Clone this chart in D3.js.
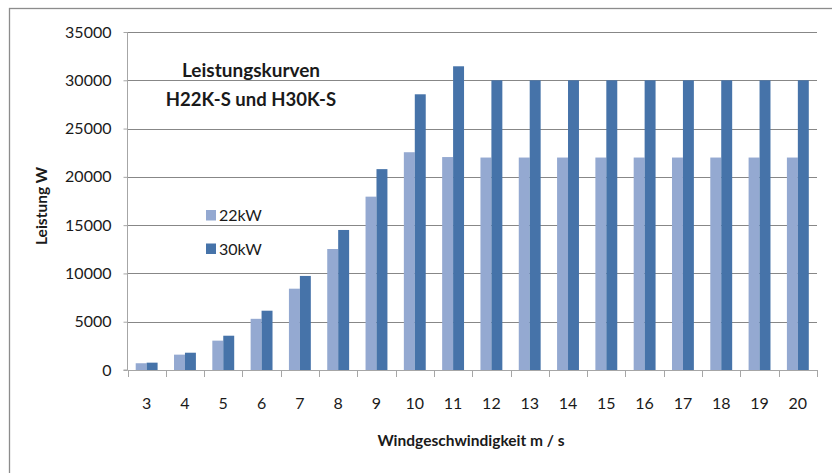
<!DOCTYPE html>
<html>
<head>
<meta charset="utf-8">
<script src="https://cdn.jsdelivr.net/npm/d3@7"></script>
<style>
  body { margin: 0; background: #fff; }
  text { font-family: Lato, "Open Sans", sans-serif; fill: #1a1a1a; }
</style>
</head>
<body>
<div id="chart"></div>
<script>
var width = 832,
    height = 473;

// wind speed m/s
const speeds = ["3", "4", "5", "6", "7", "8", "9", "10", "11", "12", "13", "14", "15", "16", "17", "18", "19", "20"];
const power22 = [700, 1590, 3040, 5300, 8420, 12530, 17950, 22550, 22050, 22000, 22000, 22000, 22000, 22000, 22000, 22000, 22000, 22000];
const power30 = [760, 1790, 3550, 6140, 9740, 14500, 20800, 28550, 31450, 30000, 30000, 30000, 30000, 30000, 30000, 30000, 30000, 30000];
const yTicks = [0, 5000, 10000, 15000, 20000, 25000, 30000, 35000];
const seriesNames = ["22kW", "30kW"];
const colors = ["#94a9d1", "#4673a9"];

var plot = { left: 127.5, right: 817, top: 32, bottom: 370 };

var svg = d3.select("#chart")
    .append("svg")
    .attr("width", width)
    .attr("height", height);

// chart area frame
svg.append("rect")
    .attr("x", 9.5)
    .attr("y", 8.5)
    .attr("width", width + 20)
    .attr("height", height + 20)
    .attr("fill", "none")
    .attr("stroke", "#8c8c8c")
    .attr("stroke-width", 1.3);

var x = d3.scaleBand()
    .domain(speeds)
    .range([plot.left, plot.right]);

var y = d3.scaleLinear()
    .domain([0, 35000])
    .range([plot.bottom, plot.top]);

var barW = x.bandwidth() / 3.5;

// gridlines
svg.append("g")
    .selectAll("line")
    .data(yTicks.filter(d => d > 0))
    .join("line")
    .attr("x1", plot.left)
    .attr("x2", plot.right)
    .attr("y1", d => Math.round(y(d)) + 0.5)
    .attr("y2", d => Math.round(y(d)) + 0.5)
    .attr("stroke", "#878787")
    .attr("stroke-width", 1);

// bars
var data = speeds.map((s, i) => ({ s: s, v: [power22[i], power30[i]] }));

var groups = svg.append("g")
    .selectAll("g")
    .data(data)
    .join("g")
    .attr("transform", d => "translate(" + (x(d.s) + barW * 0.75) + ",0)");

groups.selectAll("rect")
    .data(d => d.v)
    .join("rect")
    .attr("x", (d, i) => i * barW)
    .attr("y", d => y(d))
    .attr("width", barW)
    .attr("height", d => plot.bottom - y(d))
    .attr("fill", (d, i) => colors[i]);

// y axis
var yAxis = d3.axisLeft(y)
    .tickValues(yTicks)
    .tickSize(4)
    .tickPadding(12)
    .tickFormat(d3.format("d"));

var gy = svg.append("g")
    .attr("transform", "translate(" + plot.left + ",0)")
    .call(yAxis);
gy.select(".domain").attr("stroke", "#a6a6a6").attr("d", "M-4," + plot.bottom + "H0V" + plot.top);
gy.selectAll(".tick line").attr("stroke", "#a6a6a6");
gy.selectAll(".tick text").style("font-size", "16px").attr("fill", "#1a1a1a");

// x axis, ticks between categories
var gx = svg.append("g")
    .attr("transform", "translate(0," + plot.bottom + ")");
gx.append("line")
    .attr("x1", plot.left)
    .attr("x2", plot.right)
    .attr("y1", 0.5)
    .attr("y2", 0.5)
    .attr("stroke", "#a6a6a6");
gx.selectAll(".sep")
    .data(speeds.map(s => x(s)).concat([plot.right]))
    .join("line")
    .attr("class", "sep")
    .attr("x1", d => Math.round(d) + 0.5)
    .attr("x2", d => Math.round(d) + 0.5)
    .attr("y1", 0)
    .attr("y2", 7)
    .attr("stroke", "#a6a6a6");
gx.selectAll(".lbl")
    .data(speeds)
    .join("text")
    .attr("class", "lbl")
    .attr("x", d => x(d) + x.bandwidth() / 2)
    .attr("y", 39)
    .attr("text-anchor", "middle")
    .style("font-size", "16px")
    .text(d => d);

// axis titles
svg.append("text")
    .attr("x", 471)
    .attr("y", 446)
    .attr("text-anchor", "middle")
    .style("font-size", "15.5px")
    .style("font-weight", "bold")
    .text("Windgeschwindigkeit m / s");

svg.append("text")
    .attr("transform", "translate(47,206) rotate(-90)")
    .attr("text-anchor", "middle")
    .style("font-size", "15.5px")
    .style("font-weight", "bold")
    .text("Leistung W");

// chart title
var title = svg.append("g").attr("transform", "translate(251,0)");
title.append("text")
    .attr("y", 77)
    .attr("text-anchor", "middle")
    .style("font-size", "19px")
    .style("font-weight", "bold")
    .text("Leistungskurven");
title.append("text")
    .attr("y", 106)
    .attr("text-anchor", "middle")
    .style("font-size", "18.5px")
    .style("font-weight", "bold")
    .text("H22K-S und H30K-S");

// legend
var legend = svg.append("g")
    .selectAll("g")
    .data(seriesNames)
    .join("g")
    .attr("transform", (d, i) => "translate(206," + (210 + i * 33.5) + ")");
legend.append("rect")
    .attr("width", 10)
    .attr("height", 10.5)
    .attr("fill", (d, i) => colors[i]);
legend.append("text")
    .attr("x", 13)
    .attr("y", 11)
    .style("font-size", "16px")
    .text(d => d);
</script>
</body>
</html>
